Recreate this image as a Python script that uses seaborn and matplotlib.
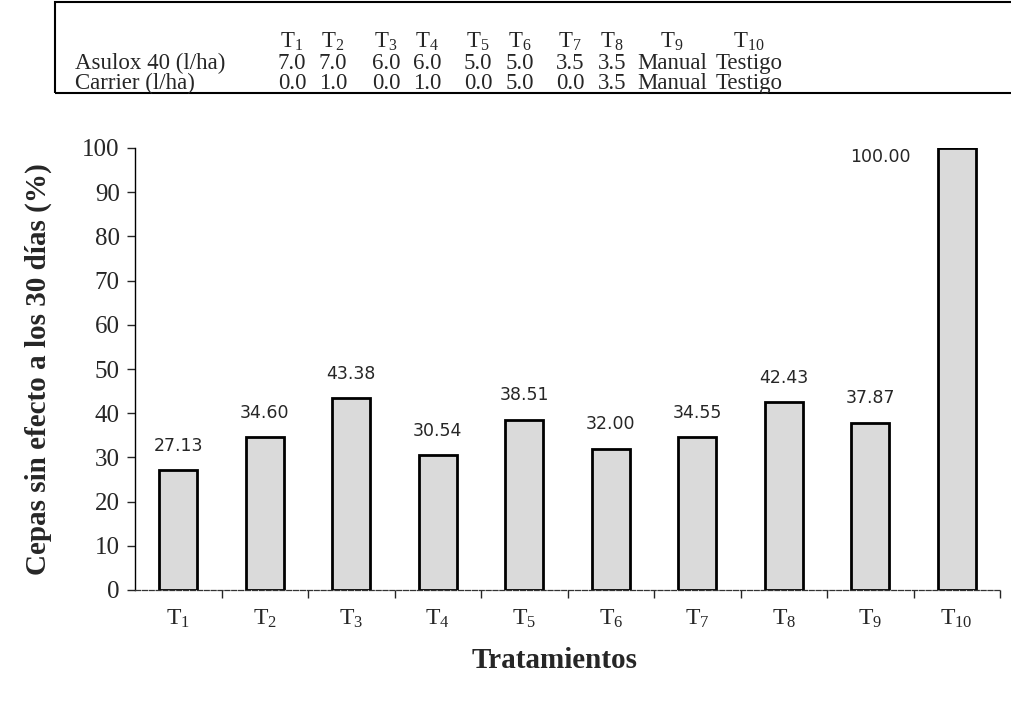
import matplotlib
matplotlib.use("Agg")
import matplotlib.pyplot as plt
import seaborn as sns
import pandas as pd
from matplotlib.patches import Rectangle

# ---- data ----
categories = ["T1", "T2", "T3", "T4", "T5", "T6", "T7", "T8", "T9", "T10"]
values = [27.13, 34.60, 43.38, 30.54, 38.51, 32.00, 34.55, 42.43, 37.87, 100.00]
asulox = ["7.0", "7.0", "6.0", "6.0", "5.0", "5.0", "3.5", "3.5", "Manual", "Testigo"]
carrier = ["0.0", "1.0", "0.0", "1.0", "0.0", "5.0", "0.0", "3.5", "Manual", "Testigo"]
row_labels = ["Asulox 40 (l/ha)", "Carrier (l/ha)"]
y_label = "Cepas sin efecto a los 30 días (%)"
x_label = "Tratamientos"

sns.set_theme(style="white")
plt.rcParams["font.family"] = ["Liberation Serif", "DejaVu Serif"]
plt.rcParams["mathtext.default"] = "regular"

def tlab(c):
    return "T$_{" + c[1:] + "}$"

W, H = 1012, 712
fig = plt.figure(figsize=(W / 100, H / 100), dpi=100)
ax = fig.add_axes([135 / W, 1 - 590 / H, (1000 - 135) / W, (590 - 148) / H])

df = pd.DataFrame({"cat": categories, "val": values})
sns.barplot(data=df, x="cat", y="val", color="#dadada", edgecolor="black",
            linewidth=2.0, width=0.44, saturation=1, ax=ax)

ax.set_ylim(0, 100)
ax.set_xlim(-0.5, len(categories) - 0.5)
ax.set_yticks(range(0, 101, 10))
ax.tick_params(axis="y", direction="out", length=6, width=1, labelsize=18, pad=5, left=True)
ax.set_xticks(range(len(categories)))
ax.set_xticklabels([tlab(c) for c in categories], fontsize=17)
ax.tick_params(axis="x", length=0, pad=13)
ax.set_xticks([i + 0.5 for i in range(len(categories))], minor=True)
ax.tick_params(axis="x", which="minor", direction="out", length=6, width=1, bottom=True)

for s in ["top", "right"]:
    ax.spines[s].set_visible(False)
ax.spines["left"].set_color("black")
ax.spines["left"].set_linewidth(1.0)
ax.spines["bottom"].set_color("#333333")
ax.spines["bottom"].set_linewidth(0.9)
ax.spines["bottom"].set_linestyle((0, (4, 1.5)))

ax.set_ylabel(y_label, fontsize=21, fontweight="bold", labelpad=22)
ax.set_xlabel("")
fig.text(555 / W, 1 - 660 / H, x_label, ha="center", va="center",
         fontsize=21, fontweight="bold")

for i, v in enumerate(values):
    if v >= 100:
        ax.text(i - 0.88, v - 2.0, f"{v:.2f}", ha="center", va="center",
                fontsize=12.5, family="DejaVu Sans")
    else:
        ax.text(i, v + 3.5, f"{v:.2f}", ha="center", va="bottom",
                fontsize=12.5, family="DejaVu Sans")

# ---- table at top ----
box = Rectangle((55 / W, 1 - 93 / H), 1.0, 93 / H - 2 / H, transform=fig.transFigure,
                fill=False, edgecolor="black", linewidth=1.5, clip_on=False)
fig.patches.append(box)

col_x = [292, 333, 386, 427, 478, 520, 570, 612, 672, 749]
row_base = [48, 69, 89]
fs_tab = 16.5
for cx, c in zip(col_x, categories):
    fig.text(cx / W, 1 - row_base[0] / H, tlab(c), ha="center", va="baseline", fontsize=fs_tab)
fig.text(75 / W, 1 - row_base[1] / H, row_labels[0], ha="left", va="baseline", fontsize=fs_tab)
fig.text(75 / W, 1 - row_base[2] / H, row_labels[1], ha="left", va="baseline", fontsize=fs_tab)
for cx, a, c in zip(col_x, asulox, carrier):
    fig.text(cx / W, 1 - row_base[1] / H, a, ha="center", va="baseline", fontsize=fs_tab)
    fig.text(cx / W, 1 - row_base[2] / H, c, ha="center", va="baseline", fontsize=fs_tab)

fig.savefig("out.png", dpi=100)
